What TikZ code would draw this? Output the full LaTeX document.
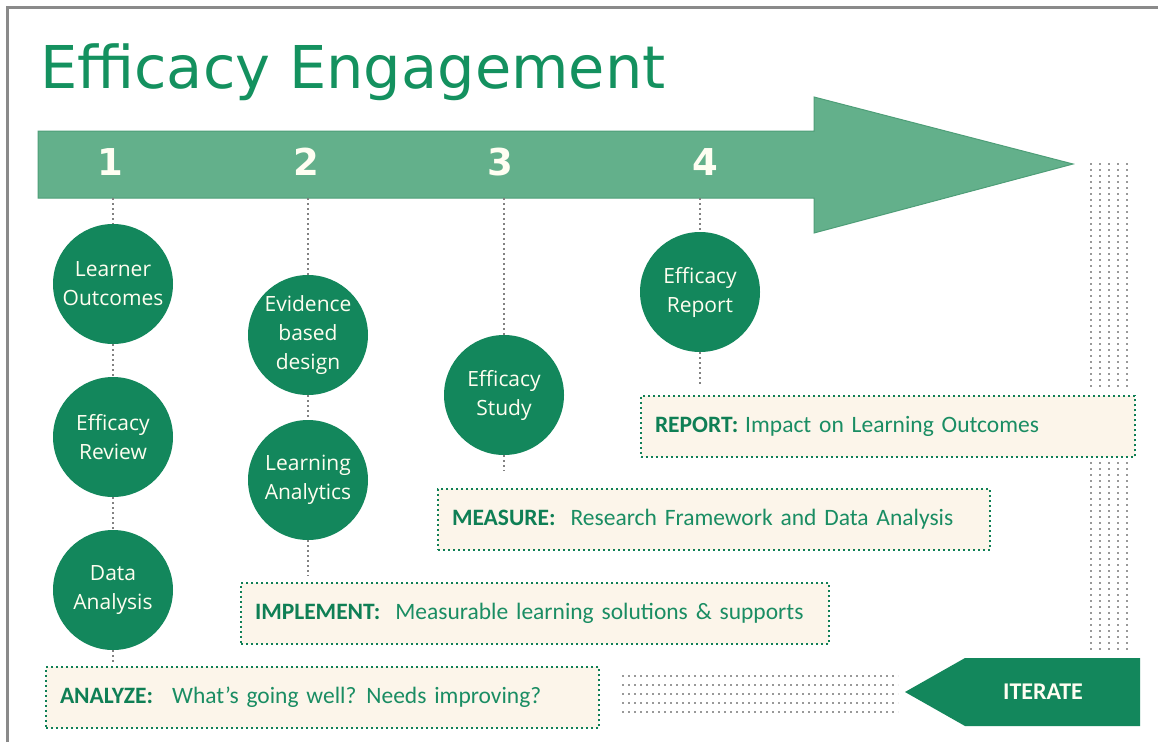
\documentclass[tikz,border=0pt]{standalone}
\usepackage{fontspec}
\setmainfont{DejaVu Sans}
\newfontfamily\boxfont{Carlito}
\newfontfamily\circfont{Open Sans}
\definecolor{arrowgreen}{HTML}{63B08B}
\definecolor{arrowedge}{HTML}{4E9E78}
\definecolor{darkgreen}{HTML}{13875C}
\definecolor{titlegreen}{HTML}{14915F}
\definecolor{labelgreen}{HTML}{0F7F55}
\definecolor{textgreen}{HTML}{1A8D63}
\definecolor{cream}{HTML}{FCF5EA}
\definecolor{dotgrey}{HTML}{999999}
\definecolor{framegrey}{HTML}{8A8A8A}
\tikzset{
  stage/.style={circle, fill=darkgreen, minimum size=120pt, inner sep=0pt,
    text=white!94!yellow, font=\circfont\fontsize{21}{29}\selectfont, align=center},
  stagelink/.style={draw=dotgrey!85!black, line width=2.2pt, dash pattern=on 2.2pt off 2.8pt},
  infobox/.style={draw=labelgreen, fill=cream, line width=2pt, dash pattern=on 1.8pt off 3.2pt,
    anchor=north west, minimum height=61pt, inner xsep=14pt, align=left,
    text=textgreen, font=\boxfont\fontsize{23.5}{28}\selectfont},
  stepnum/.style={text=white!95!yellow, font=\bfseries\fontsize{37}{40}\selectfont, anchor=base, inner sep=0pt},
  griddots/.style={draw=dotgrey, line width=2.2pt, dash pattern=on 2.2pt off 3.8pt}
}
\newcommand{\lbl}[1]{\textcolor{labelgreen}{\bfseries #1}}
\begin{document}
\begin{tikzpicture}[x=1pt, y=-1pt]
  \useasboundingbox (0,0) rectangle (1158,742);
  \fill[white] (0,0) rectangle (1158,742);
  % frame
  \draw[framegrey, line width=3pt] (7.5,742) -- (7.5,7.5) -- (1158,7.5);

  % title
  \node[anchor=base west, inner sep=0pt, text=titlegreen, font=\fontsize{59}{64}\selectfont]
    (title) at (40,88) {Efficacy Engagement};

  % main process arrow
  \filldraw[fill=arrowgreen, draw=arrowedge, line width=1pt]
    (38,131) -- (814,131) -- (814,97) -- (1073,164) -- (814,233) -- (814,198) -- (38,198) -- cycle;
  \node[stepnum] (n1) at (110,175) {1};
  \node[stepnum] (n2) at (306,175) {2};
  \node[stepnum] (n3) at (500,175) {3};
  \node[stepnum] (n4) at (705,175) {4};
  \coordinate (s1) at (113,198);
  \coordinate (s2) at (308,198);
  \coordinate (s3) at (504,198);
  \coordinate (s4) at (700,198);

  % stage circles
  \node[stage] (lo) at (113,284) {Learner\\Outcomes};
  \node[stage] (er) at (113,437) {Efficacy\\Review};
  \node[stage] (da) at (113,590) {Data\\Analysis};
  \node[stage] (ebd) at (308,335) {Evidence\\based\\design};
  \node[stage] (la) at (308,480) {Learning\\Analytics};
  \node[stage] (es) at (504,395) {Efficacy\\Study};
  \node[stage] (rep) at (700,292) {Efficacy\\Report};

  % dotted links
  \coordinate (e1) at (113,662);
  \coordinate (e2) at (308,576);
  \coordinate (e3) at (504,471);
  \coordinate (e4) at (700,386);
  \draw[stagelink] (s1) -- (lo.north);
  \draw[stagelink] (lo.south) -- (er.north);
  \draw[stagelink] (er.south) -- (da.north);
  \draw[stagelink] (da.south) -- (e1);
  \draw[stagelink] (s2) -- (ebd.north);
  \draw[stagelink] (ebd.south) -- (la.north);
  \draw[stagelink] (la.south) -- (e2);
  \draw[stagelink] (s3) -- (es.north);
  \draw[stagelink] (es.south) -- (e3);
  \draw[stagelink] (s4) -- (rep.north);
  \draw[stagelink] (rep.south) -- (e4);

  % phase boxes
  \node[infobox, minimum width=494pt, text width=466pt] (report) at (640,395)
    {\lbl{REPORT:}\hspace{7pt}Impact on Learning Outcomes};
  \node[infobox, minimum width=552pt, text width=524pt] (measure) at (437,488)
    {\lbl{MEASURE:}\hspace{15pt}Research Framework and Data Analysis};
  \node[infobox, minimum width=588pt, text width=560pt] (implement) at (240,582)
    {\lbl{IMPLEMENT:}\hspace{15pt}Measurable learning solutions \& supports};
  \node[infobox, minimum width=553pt, text width=525pt] (analyze) at (45,666)
    {\lbl{ANALYZE:}\hspace{19pt}What’s going well?\hspace{10pt}Needs improving?};

  % iteration dot bands
  \foreach \x in {1091,1100,1109,1118,1127} {
    \draw[griddots] (\x,163) -- (\x,388);
    \draw[griddots] (\x,462) -- (\x,651);
  }
  \foreach \y in {676,685,694,703,712} {
    \draw[griddots] (622,\y) -- (898,\y);
  }

  % iterate arrow
  \fill[darkgreen] (905,692) -- (965,658) -- (1140,658) -- (1140,726) -- (965,726) -- cycle;
  \node[text=white!95!yellow, font=\boxfont\bfseries\fontsize{24}{28}\selectfont] (iter) at (1043,692) {ITERATE};
\end{tikzpicture}
\end{document}
